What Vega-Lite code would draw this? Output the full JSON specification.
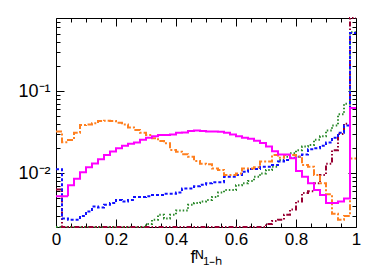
{
  "$schema": "https://vega.github.io/schema/vega-lite/v6.json",
  "width": 300,
  "height": 209,
  "autosize": {"type": "none"},
  "padding": {"left": 56, "top": 18, "right": 18, "bottom": 41},
  "background": "white",
  "config": {
    "font": "Liberation Sans",
    "view": {"stroke": null},
    "axis": {
      "grid": false,
      "labelFont": "Liberation Sans",
      "labelFontSize": 17,
      "labelColor": "#000000",
      "tickColor": "#000000",
      "tickWidth": 1,
      "domainColor": "#000000",
      "domainWidth": 1,
      "titleFont": "Liberation Sans",
      "titleFontWeight": "normal",
      "titleColor": "#000000"
    }
  },
  "data": {
    "values": [
      {"x": 0.00, "m": 0.0052, "o": 0.032, "b": 0.0111, "g": 0.001, "r": 0.0063},
      {"x": 0.02, "m": 0.0052, "o": 0.0237, "b": 0.0028, "g": 0.001, "r": 0.001},
      {"x": 0.04, "m": 0.0071, "o": 0.0253, "b": 0.0027, "g": 0.001, "r": 0.001},
      {"x": 0.06, "m": 0.0085, "o": 0.031, "b": 0.0027, "g": 0.001, "r": 0.001},
      {"x": 0.08, "m": 0.0102, "o": 0.0385, "b": 0.003, "g": 0.001, "r": 0.001},
      {"x": 0.10, "m": 0.0118, "o": 0.039, "b": 0.0034, "g": 0.001, "r": 0.001},
      {"x": 0.12, "m": 0.0131, "o": 0.0404, "b": 0.0039, "g": 0.001, "r": 0.001},
      {"x": 0.14, "m": 0.0147, "o": 0.043, "b": 0.0038, "g": 0.001, "r": 0.001},
      {"x": 0.16, "m": 0.0166, "o": 0.0435, "b": 0.0041, "g": 0.001, "r": 0.001},
      {"x": 0.18, "m": 0.0183, "o": 0.043, "b": 0.0043, "g": 0.001, "r": 0.001},
      {"x": 0.20, "m": 0.020, "o": 0.041, "b": 0.0047, "g": 0.001, "r": 0.001},
      {"x": 0.22, "m": 0.0215, "o": 0.039, "b": 0.0045, "g": 0.001, "r": 0.001},
      {"x": 0.24, "m": 0.0228, "o": 0.036, "b": 0.0047, "g": 0.001, "r": 0.001},
      {"x": 0.26, "m": 0.0235, "o": 0.0335, "b": 0.0051, "g": 0.001, "r": 0.001},
      {"x": 0.28, "m": 0.0255, "o": 0.031, "b": 0.0051, "g": 0.001, "r": 0.001},
      {"x": 0.30, "m": 0.027, "o": 0.029, "b": 0.0052, "g": 0.0024, "r": 0.001},
      {"x": 0.32, "m": 0.028, "o": 0.0265, "b": 0.0054, "g": 0.0027, "r": 0.001},
      {"x": 0.34, "m": 0.029, "o": 0.0246, "b": 0.0054, "g": 0.0031, "r": 0.001},
      {"x": 0.36, "m": 0.029, "o": 0.023, "b": 0.0056, "g": 0.0028, "r": 0.001},
      {"x": 0.38, "m": 0.0295, "o": 0.0191, "b": 0.0056, "g": 0.0031, "r": 0.001},
      {"x": 0.40, "m": 0.031, "o": 0.0182, "b": 0.0058, "g": 0.0035, "r": 0.001},
      {"x": 0.42, "m": 0.0313, "o": 0.017, "b": 0.0065, "g": 0.0035, "r": 0.001},
      {"x": 0.44, "m": 0.0325, "o": 0.0158, "b": 0.0065, "g": 0.0041, "r": 0.001},
      {"x": 0.46, "m": 0.033, "o": 0.014, "b": 0.0069, "g": 0.0043, "r": 0.001},
      {"x": 0.48, "m": 0.0325, "o": 0.013, "b": 0.0072, "g": 0.0045, "r": 0.001},
      {"x": 0.50, "m": 0.032, "o": 0.0128, "b": 0.0075, "g": 0.0047, "r": 0.001},
      {"x": 0.52, "m": 0.032, "o": 0.0114, "b": 0.0077, "g": 0.0051, "r": 0.001},
      {"x": 0.54, "m": 0.0318, "o": 0.0109, "b": 0.0077, "g": 0.0058, "r": 0.001},
      {"x": 0.56, "m": 0.031, "o": 0.0095, "b": 0.009, "g": 0.0062, "r": 0.001},
      {"x": 0.58, "m": 0.0295, "o": 0.0095, "b": 0.009, "g": 0.0062, "r": 0.001},
      {"x": 0.60, "m": 0.028, "o": 0.0099, "b": 0.0095, "g": 0.0071, "r": 0.001},
      {"x": 0.62, "m": 0.027, "o": 0.0114, "b": 0.0104, "g": 0.0075, "r": 0.001},
      {"x": 0.64, "m": 0.0262, "o": 0.0114, "b": 0.0112, "g": 0.008, "r": 0.001},
      {"x": 0.66, "m": 0.0248, "o": 0.0118, "b": 0.0112, "g": 0.009, "r": 0.001},
      {"x": 0.68, "m": 0.0232, "o": 0.0138, "b": 0.0119, "g": 0.0099, "r": 0.001},
      {"x": 0.70, "m": 0.021, "o": 0.0138, "b": 0.0119, "g": 0.0109, "r": 0.0024},
      {"x": 0.72, "m": 0.0185, "o": 0.0166, "b": 0.0125, "g": 0.0119, "r": 0.0026},
      {"x": 0.74, "m": 0.0168, "o": 0.0154, "b": 0.0138, "g": 0.0144, "r": 0.0027},
      {"x": 0.76, "m": 0.0168, "o": 0.0166, "b": 0.0144, "g": 0.0158, "r": 0.0031},
      {"x": 0.78, "m": 0.0151, "o": 0.0166, "b": 0.0154, "g": 0.0174, "r": 0.0036},
      {"x": 0.80, "m": 0.0106, "o": 0.0158, "b": 0.0158, "g": 0.019, "r": 0.0045},
      {"x": 0.82, "m": 0.009, "o": 0.0125, "b": 0.0168, "g": 0.021, "r": 0.0057},
      {"x": 0.84, "m": 0.0075, "o": 0.0119, "b": 0.0195, "g": 0.022, "r": 0.006},
      {"x": 0.86, "m": 0.0062, "o": 0.0095, "b": 0.020, "g": 0.0255, "r": 0.0075},
      {"x": 0.88, "m": 0.0054, "o": 0.0075, "b": 0.0215, "g": 0.028, "r": 0.0095},
      {"x": 0.90, "m": 0.0043, "o": 0.0055, "b": 0.0235, "g": 0.033, "r": 0.013},
      {"x": 0.92, "m": 0.0043, "o": 0.0032, "b": 0.027, "g": 0.038, "r": 0.019},
      {"x": 0.94, "m": 0.0045, "o": 0.0027, "b": 0.031, "g": 0.052, "r": 0.03},
      {"x": 0.96, "m": 0.0049, "o": 0.003, "b": 0.038, "g": 0.07, "r": 0.04},
      {"x": 0.98, "m": 0.062, "o": 0.015, "b": 0.51, "g": 0.52, "r": 1.0},
      {"x": 1.00, "m": 0.062, "o": 0.015, "b": 0.51, "g": 0.52, "r": 1.0}
    ]
  },
  "transform": [{"fold": ["g", "r", "b", "o", "m"], "as": ["s", "v"]}],
  "layer": [
    {
      "mark": {"type": "line", "interpolate": "step-after"},
      "encoding": {
        "x": {
          "field": "x", "type": "quantitative",
          "scale": {"domain": [0, 1], "nice": false, "zero": false},
          "axis": {
            "orient": "bottom",
            "values": [0, 0.05, 0.1, 0.15, 0.2, 0.25, 0.3, 0.35, 0.4, 0.45, 0.5, 0.55, 0.6, 0.65, 0.7, 0.75, 0.8, 0.85, 0.9, 0.95, 1],
            "tickSize": {"condition": {"test": "abs(datum.value*5-round(datum.value*5))<0.001", "value": -8}, "value": -4},
            "labelExpr": "abs(datum.value*5-round(datum.value*5))<0.001 ? format(datum.value, '~g') : ''",
            "labelPadding": 12,
            "labelFlush": false,
            "labelOverlap": false,
            "title": "fᴺ₁₋ₕ",
            "titleFontSize": 18,
            "titlePadding": -3
          }
        },
        "y": {
          "field": "v", "type": "quantitative",
          "scale": {"type": "log", "domain": [0.0022, 0.776], "nice": false, "clamp": true},
          "axis": {
            "orient": "left",
            "values": [0.003, 0.004, 0.005, 0.006, 0.007, 0.008, 0.009, 0.01, 0.02, 0.03, 0.04, 0.05, 0.06, 0.07, 0.08, 0.09, 0.1, 0.2, 0.3, 0.4, 0.5, 0.6, 0.7],
            "tickSize": {"condition": {"test": "datum.value == 0.01 || datum.value == 0.1", "value": -8}, "value": -4},
            "labelExpr": "datum.value == 0.1 ? '10⁻¹' : datum.value == 0.01 ? '10⁻²' : ''",
            "labelFontSize": 18,
            "labelPadding": 14,
            "labelFlush": false,
            "labelOverlap": false,
            "title": null
          }
        },
        "color": {
          "field": "s", "type": "nominal",
          "scale": {"domain": ["g", "r", "b", "o", "m"], "range": ["#2e8b2e", "#990033", "#1010ff", "#ff8020", "#ff00ff"]},
          "legend": null
        },
        "strokeDash": {
          "field": "s", "type": "nominal",
          "scale": {"domain": ["g", "r", "b", "o", "m"], "range": [[1.5, 2], [5, 2, 1.5, 2, 1.5, 2], [3, 2], [6, 2, 2, 2], [1, 0]]},
          "legend": null
        },
        "strokeWidth": {
          "field": "s", "type": "nominal",
          "scale": {"domain": ["g", "r", "b", "o", "m"], "range": [2, 2, 2, 2, 2.5]},
          "legend": null
        }
      }
    },
    {
      "mark": {"type": "line", "opacity": 0, "interpolate": "step-after"},
      "encoding": {
        "x": {
          "field": "x", "type": "quantitative",
          "axis": {
            "orient": "top",
            "values": [0, 0.05, 0.1, 0.15, 0.2, 0.25, 0.3, 0.35, 0.4, 0.45, 0.5, 0.55, 0.6, 0.65, 0.7, 0.75, 0.8, 0.85, 0.9, 0.95, 1],
            "tickSize": {"condition": {"test": "abs(datum.value*5-round(datum.value*5))<0.001", "value": -8}, "value": -4},
            "labels": false,
            "title": null
          }
        },
        "y": {
          "field": "v", "type": "quantitative",
          "axis": {
            "orient": "right",
            "values": [0.003, 0.004, 0.005, 0.006, 0.007, 0.008, 0.009, 0.01, 0.02, 0.03, 0.04, 0.05, 0.06, 0.07, 0.08, 0.09, 0.1, 0.2, 0.3, 0.4, 0.5, 0.6, 0.7],
            "tickSize": {"condition": {"test": "datum.value == 0.01 || datum.value == 0.1", "value": -8}, "value": -4},
            "labels": false,
            "title": null
          }
        },
        "detail": {"field": "s", "type": "nominal"}
      }
    }
  ],
  "resolve": {"axis": {"x": "independent", "y": "independent"}}
}
